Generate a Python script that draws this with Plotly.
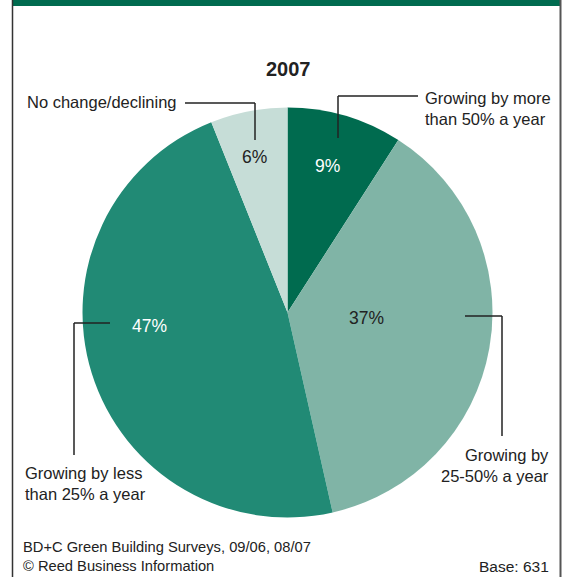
import plotly.graph_objects as go

# donnees
categories = ["Growing by more than 50% a year", "Growing by 25-50% a year",
              "Growing by less than 25% a year", "No change/declining"]
shares = [9, 37, 47, 6]
colors = ["#006b4f", "#80b4a6", "#218a75", "#c6ddd7"]
label_colors = ["white", "#222222", "white", "#222222"]

W, H = 566, 577
FONT = "Liberation Sans, Arial, sans-serif"
INK = "#222222"

def pt(x, y):
    # pixels -> coordonnees papier
    return x / W, 1 - y / H

fig = go.Figure(go.Pie(
    labels=categories,
    values=shares,
    sort=False,
    direction="clockwise",
    rotation=0,
    marker=dict(colors=colors, line=dict(width=0)),
    textinfo="none",
    hoverinfo="label+value",
    showlegend=False,
    domain=dict(x=[(287.5 - 205) / W, (287.5 + 205) / W],
                y=[(H - 312.5 - 205) / H, (H - 312.5 + 205) / H]),
))

annotations = []

def note(text, x, y, xanchor="center", align="center", size=16.5, color=INK):
    ax, ay = pt(x, y)
    annotations.append(dict(text=text, x=ax, y=ay, xref="paper", yref="paper",
                            xanchor=xanchor, yanchor="middle", align=align,
                            showarrow=False, font=dict(family=FONT, size=size, color=color)))

# titre
note("<b>2007</b>", 288, 69, size=20)

# pourcentages dans les parts
pct_pos = [(327, 166), (366, 318), (149, 326), (254, 157)]
for v, c, (x, y) in zip(shares, label_colors, pct_pos):
    note(f"{v}%", x, y, color=c, size=17.5)

# libelles exterieurs
note("No change/declining", 179, 102, xanchor="right")
note("Growing by more<br>than 50% a year", 423, 109, xanchor="left", align="left")
note("Growing by<br>25-50% a year", 551, 465, xanchor="right", align="right")
note("Growing by less<br>than 25% a year", 23, 483, xanchor="left", align="left")

# source
note("BD+C Green Building Surveys, 09/06, 08/07", 21, 547, xanchor="left", align="left", size=14.7)
note("© Reed Business Information", 21, 566, xanchor="left", align="left", size=14.7)
note("Base: 631", 551, 566, xanchor="right", align="right", size=15.5)

shapes = []

def seg(x0, y0, x1, y1, color=INK, width=1.5):
    a, b = pt(x0, y0)
    c, d = pt(x1, y1)
    shapes.append(dict(type="line", xref="paper", yref="paper", x0=a, y0=b, x1=c, y1=d,
                       line=dict(color=color, width=width)))

# traits de rappel
seg(185, 103, 255, 103); seg(255, 103, 255, 140)
seg(418, 96, 338, 96); seg(338, 96, 338, 138)
seg(465, 316, 502, 316); seg(502, 316, 502, 436)
seg(110, 323, 74, 323); seg(74, 323, 74, 455)

# cadre et bandeau vert
a, b = pt(12, 0)
c, d = pt(561, 6)
shapes.append(dict(type="rect", xref="paper", yref="paper", x0=a, y0=d, x1=c, y1=b,
                   fillcolor="#006b4f", line=dict(width=0)))
seg(12.5, 0, 12.5, H, color="#333333", width=1.5)
seg(560.5, 0, 560.5, H, color="#555555", width=2)

fig.update_layout(
    width=W, height=H,
    margin=dict(l=0, r=0, t=0, b=0),
    paper_bgcolor="white",
    plot_bgcolor="white",
    font=dict(family=FONT, size=16.5, color=INK),
    annotations=annotations,
    shapes=shapes,
)

fig.write_html("out.html", config={"displayModeBar": False},
               post_script="document.body.style.margin='0';document.body.style.overflow='hidden';")
